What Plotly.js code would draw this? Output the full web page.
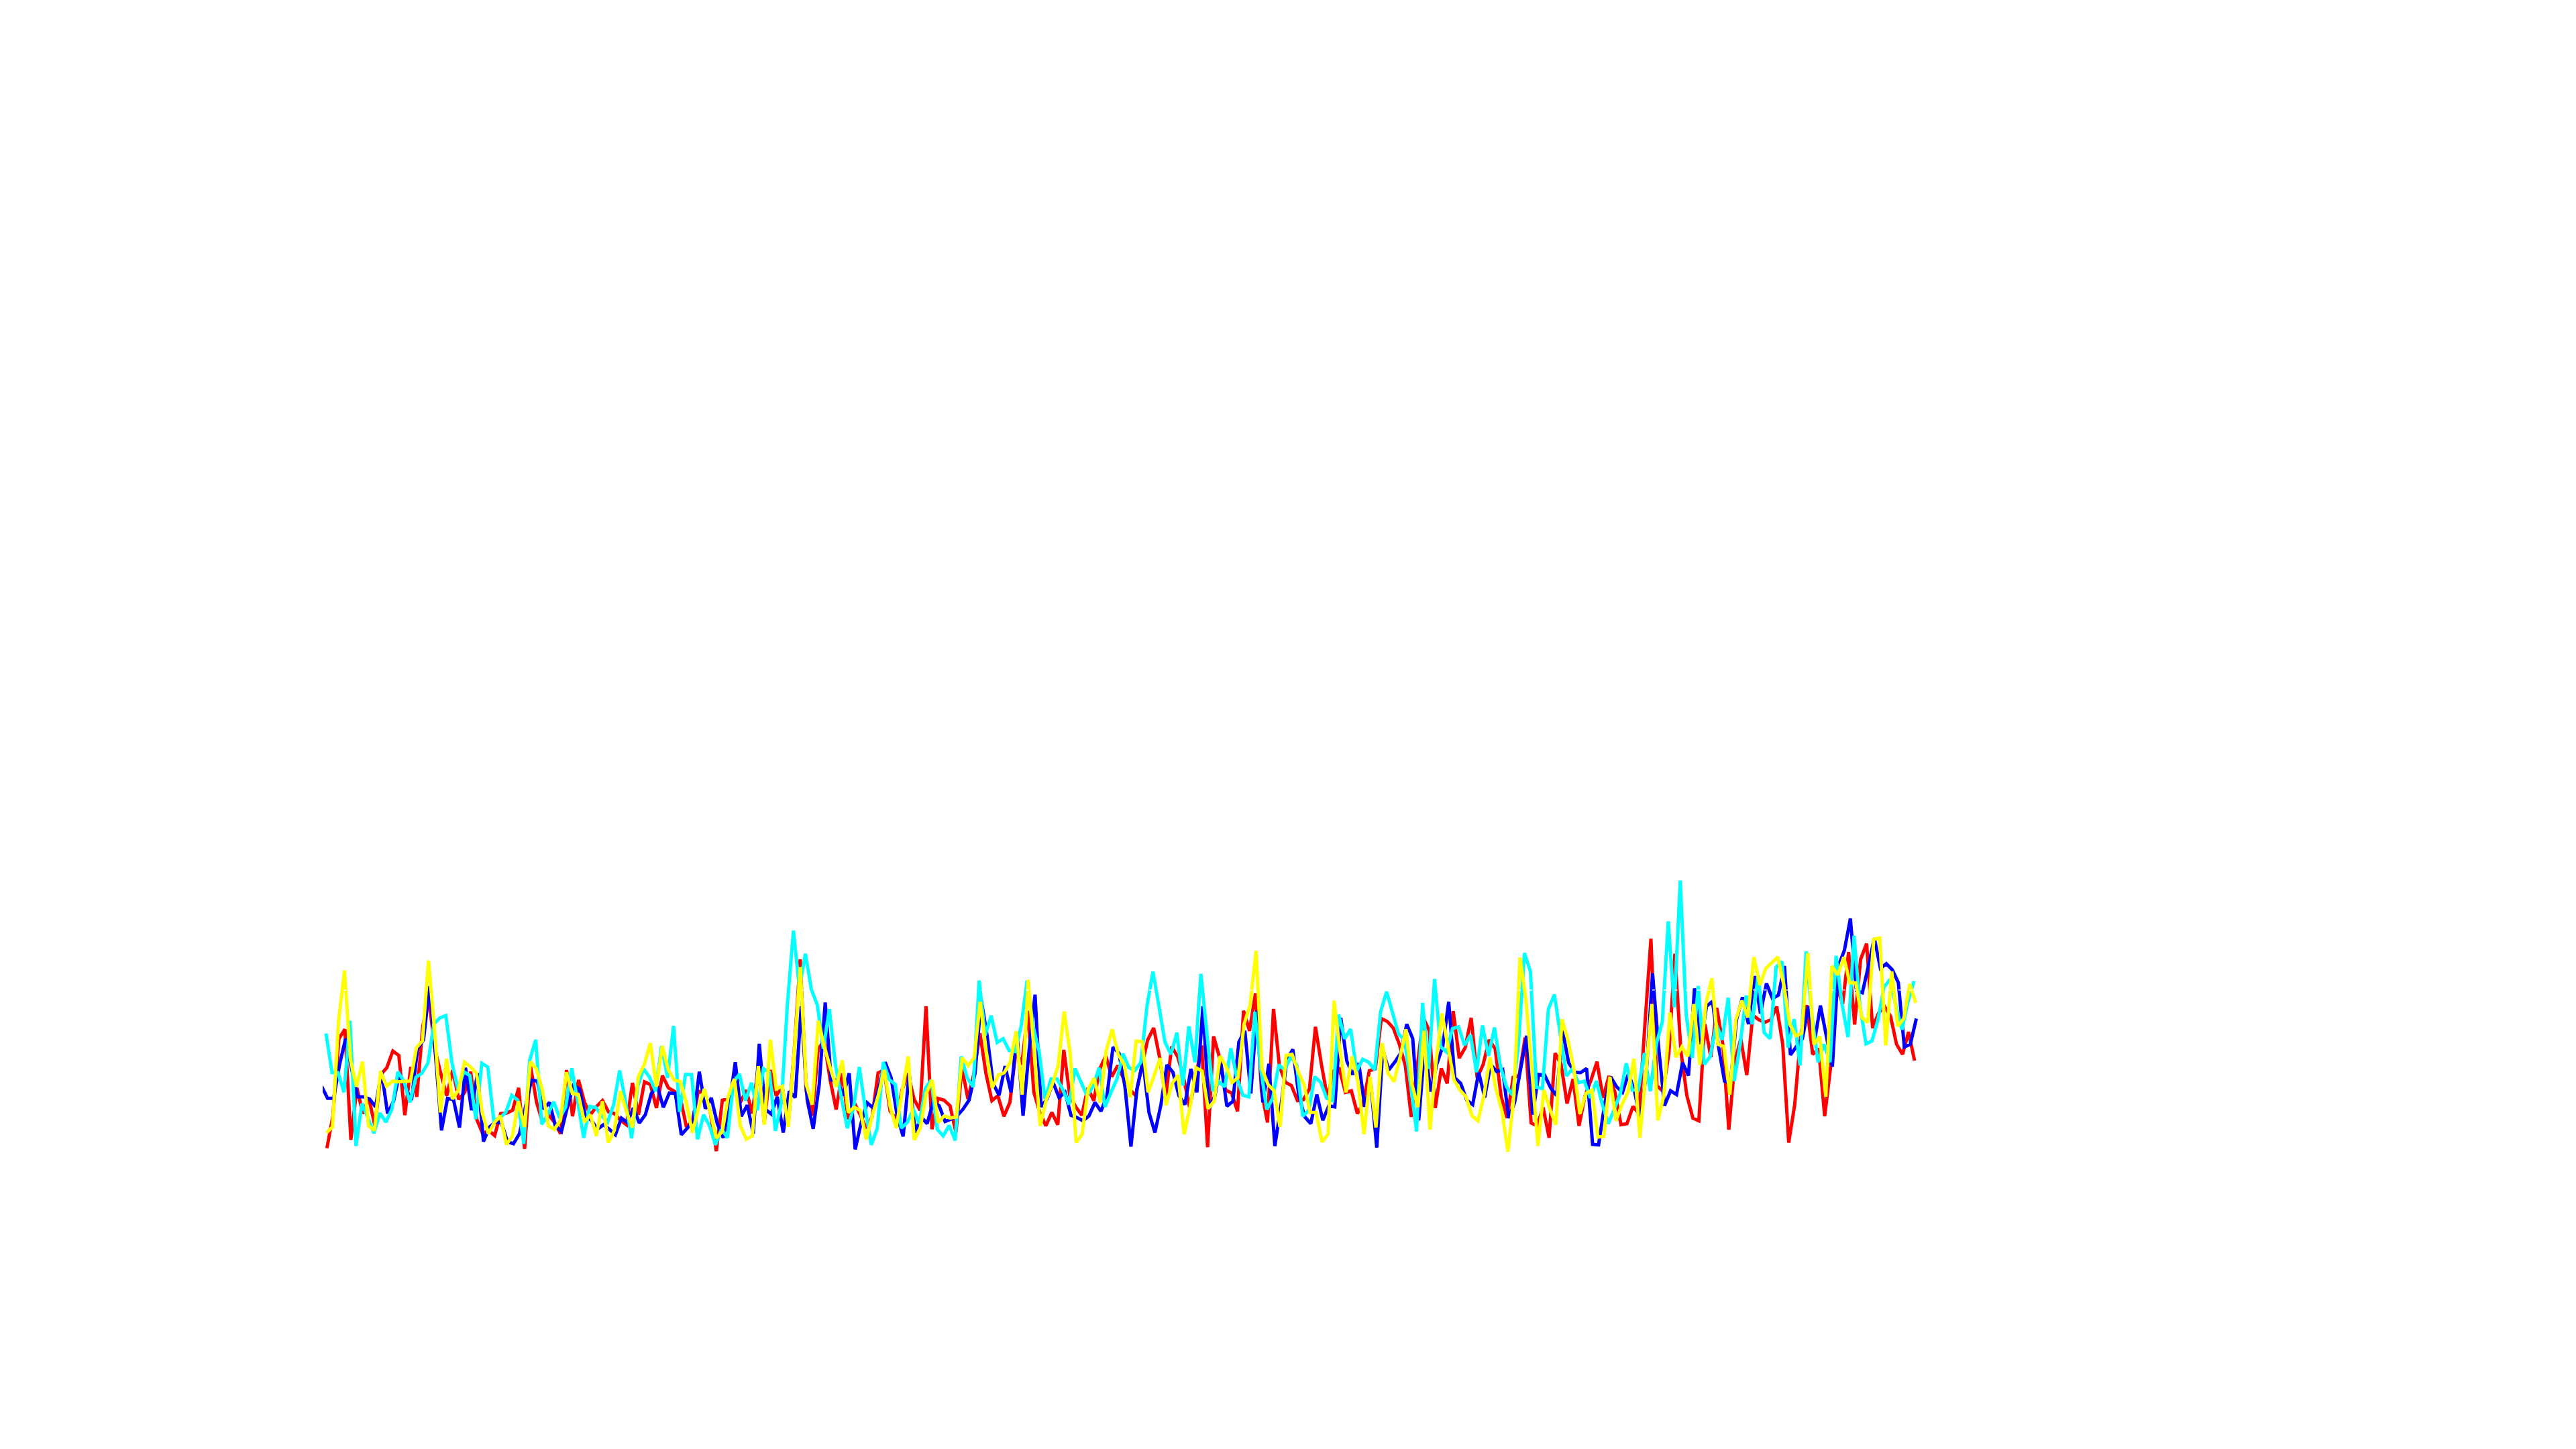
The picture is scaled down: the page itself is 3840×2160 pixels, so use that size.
<!DOCTYPE html>
<html>
<head>
<meta charset="utf-8">
<script src="https://cdn.plot.ly/plotly-3.0.1.min.js"></script>
<style>html,body{margin:0;padding:0;background:#fff}#chart{width:3840px;height:2160px}</style>
</head>
<body>
<div id="chart"></div>
<script>
const redValues = [
65,210,555,597,103,335,220,290,165,395,425,500,480,213,428,295,610,740,510,400,300,415,283,315,407,195,130,145,122,220,222,235,335,62,430,270,180,215,180,130,415,208,370,270,215,252,
278,228,220,190,170,357,215,362,350,245,390,335,320,290,160,185,320,310,225,52,280,285,365,270,325,220,430,180,415,300,340,170,500,910,320,210,510,545,370,238,400,195,270,215,155,205,
402,415,232,195,325,400,285,235,700,150,288,280,255,135,425,285,400,580,400,278,300,208,270,500,440,680,315,225,165,225,170,505,300,250,212,335,278,420,478,385,435,375,330,300,430,550,
603,470,290,520,475,380,248,380,525,70,565,470,325,312,230,680,590,758,320,180,688,430,360,345,278,282,330,608,440,290,410,420,315,322,220,270,412,420,645,632,602,530,435,205,430,
650,590,245,422,355,678,468,515,648,380,440,550,510,295,200,382,390,560,178,165,248,112,490,440,265,375,165,300,370,452,290,388,315,170,175,252,220,620,1002,345,320,490,935,500,300,200,188,
620,472,692,530,148,450,555,392,660,640,628,640,698,530,90,260,570,705,485,510,208,430,790,710,942,618,910,980,602,670,698,655,530,485,585,457];
const blueValues = [
342,288,288,440,555,420,295,295,285,250,410,220,275,400,335,280,510,550,790,480,145,288,282,158,425,235,400,95,160,182,178,95,85,130,250,370,365,240,270,165,140,250,345,330,210,190,150,
170,150,125,200,180,245,178,215,310,342,248,312,310,125,155,190,407,242,290,175,112,260,450,208,258,130,532,240,218,295,135,320,292,700,280,152,350,717,370,370,300,400,60,180,268,245,
340,450,380,210,118,400,135,205,175,270,255,185,195,210,240,280,400,732,570,355,302,432,315,580,210,500,752,250,285,360,292,315,212,202,188,210,270,230,300,517,490,340,72,330,455,225,
135,260,438,405,300,260,420,315,700,240,300,445,253,275,540,590,310,680,270,442,75,250,460,507,300,205,175,305,190,255,250,648,455,395,445,250,355,68,505,415,450,490,620,555,190,
520,318,440,520,720,380,355,280,260,405,292,440,408,417,200,270,420,568,215,395,392,335,300,590,448,405,403,422,82,80,260,385,340,315,400,320,185,420,847,520,255,322,305,448,390,780,530,
700,722,520,365,355,640,740,620,835,668,802,735,750,880,482,520,555,700,540,703,565,430,880,950,1092,770,760,880,1005,870,890,863,805,518,530,645];
const cyanValues = [
578,403,403,315,635,75,265,200,132,222,182,240,407,365,270,382,400,445,620,648,658,450,330,407,390,195,445,428,190,200,225,302,280,85,460,550,172,215,272,200,250,423,275,112,252,248,
210,182,260,413,270,110,340,420,382,320,522,380,612,228,395,395,105,215,165,80,150,112,360,397,278,358,235,420,405,143,270,710,1038,780,935,775,705,510,688,440,290,155,240,428,240,80,
155,450,372,350,155,180,240,175,332,370,150,120,167,100,475,380,340,815,570,658,538,555,502,497,610,815,610,500,285,375,375,325,260,422,360,300,340,425,250,315,375,488,425,413,450,700,
855,700,540,485,582,345,610,450,845,580,320,362,340,512,380,302,295,675,420,238,290,438,415,475,438,208,235,385,360,288,278,662,555,598,410,463,450,415,675,765,670,575,550,350,140,715,
420,822,520,495,600,608,525,572,405,614,478,605,430,340,302,530,938,855,338,332,688,752,570,388,420,358,365,290,365,260,175,240,310,445,325,325,490,320,530,630,1080,695,1262,660,470,790,
440,475,620,550,738,365,530,748,620,840,582,555,875,900,515,642,435,945,650,450,530,450,925,710,562,1015,700,532,545,640,785,820,700,595,720,812];
const yellowValues = [
135,160,630,860,460,340,452,165,145,410,342,365,362,365,365,515,545,905,600,225,465,285,325,450,430,400,220,130,180,210,82,120,275,160,452,420,325,165,150,190,405,310,305,182,215,120,
275,90,145,320,230,158,385,440,535,340,522,415,370,363,270,135,240,330,225,110,140,300,375,165,105,120,432,170,550,330,342,160,500,875,350,260,635,520,425,340,458,225,248,235,105,210,
300,415,250,155,320,475,102,155,310,370,180,210,200,205,470,435,470,720,500,335,392,402,450,588,305,818,500,165,280,350,435,677,490,90,128,330,378,270,500,597,485,440,292,545,542,315,
390,468,258,355,392,128,250,425,410,242,275,477,430,358,382,620,705,948,420,350,322,160,480,485,410,350,225,225,93,128,725,500,315,475,360,128,385,158,535,400,363,470,597,350,248,
590,148,450,668,520,370,325,295,210,188,300,470,330,230,50,300,918,730,410,75,325,240,170,642,550,420,218,310,325,115,118,385,188,260,315,465,112,400,710,190,300,672,472,518,475,710,438,
710,825,530,520,305,640,725,650,920,795,870,895,920,795,620,568,580,938,530,565,295,880,840,920,805,805,650,628,1000,1005,525,855,610,645,800,715];

const seriesNames = ["red", "blue", "cyan", "yellow"];
const seriesColors = ["#ff0000", "#0000ff", "#00ffff", "#ffff00"];
const seriesFirstX = [0.07, -0.81, -0.08, 0];
const seriesLastX = [263.6, 263.9, 263.5, 263.8];
const guideValue = 773;

const allValues = [redValues, blueValues, cyanValues, yellowValues];
const traces = allValues.map((vals, s) => ({
  type: "scatter",
  mode: "lines",
  name: seriesNames[s],
  x: vals.map((_, i) => seriesFirstX[s] + i * (seriesLastX[s] - seriesFirstX[s]) / (vals.length - 1)),
  y: vals,
  line: { color: seriesColors[s], width: 5, shape: "linear", simplify: false },
  hoverinfo: "skip"
}));

const layout = {
  width: 3840,
  height: 2160,
  paper_bgcolor: "#ffffff",
  plot_bgcolor: "#ffffff",
  showlegend: false,
  margin: { l: 481, r: 960, t: 1300, b: 427, pad: 0 },
  xaxis: { range: [-0.635, 266.5], visible: false, fixedrange: true },
  yaxis: { range: [1, 1300], visible: false, fixedrange: true },
  shapes: [{
    type: "line", layer: "above", xref: "x", yref: "y",
    x0: -0.824, x1: 266.5, y0: guideValue, y1: guideValue,
    line: { color: "#ffffff", width: 1.5, dash: "4px,12.67px" }
  }]
};

Plotly.newPlot("chart", traces, layout, { displayModeBar: false, staticPlot: true });
</script>
</body>
</html>
